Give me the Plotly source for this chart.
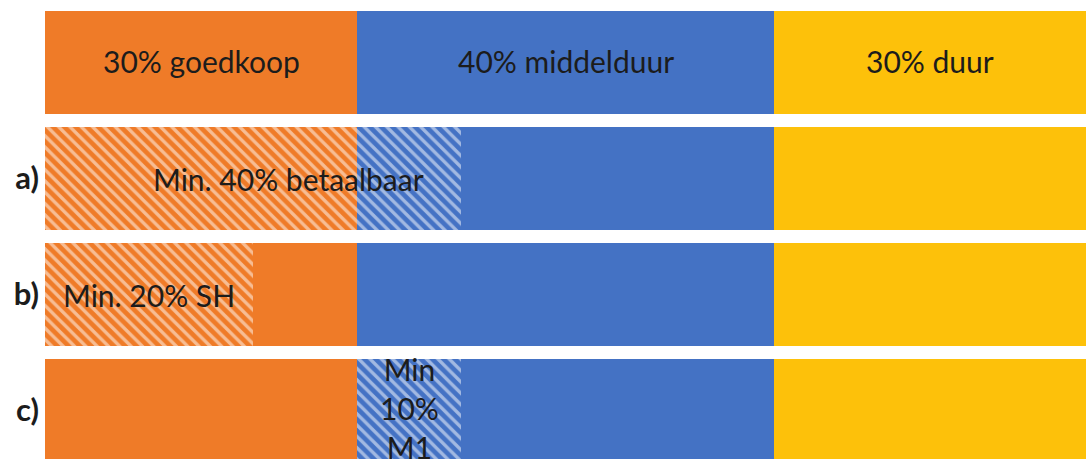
import plotly.graph_objects as go
import numpy as np

# Rows (top to bottom)
row_ids = ["base", "a", "b", "c"]
row_labels = ["", "a)", "b)", "c)"]

# Segment series (percent of total), stacked left to right
orange_hatched = [0, 30, 20, 0]
orange_solid = [30, 0, 10, 30]
blue_hatched = [0, 10, 0, 10]
blue_solid = [40, 30, 40, 30]
yellow_solid = [30, 30, 30, 30]

# Texts
base_texts = ["30% goedkoop", "40% middelduur", "30% duur"]
label_a = "Min. 40% betaalbaar"
label_b = "Min. 20% SH"
label_c = "Min<br>10%<br>M1"

ORANGE = "#EF7B28"
BLUE = "#4472C4"
YELLOW = "#FDC10A"

series = [
    (orange_hatched, ORANGE, True),
    (orange_solid, ORANGE, False),
    (blue_hatched, BLUE, True),
    (blue_solid, BLUE, False),
    (yellow_solid, YELLOW, False),
]

fig = go.Figure()
ypos = list(range(len(row_ids)))
for vals, col, hatched in series:
    marker = dict(color=col, line=dict(width=0))
    if hatched:
        marker["pattern"] = dict(shape="\\", bgcolor=col, fgcolor="white",
                                 fillmode="overlay", size=8, solidity=0.42)
    fig.add_trace(go.Bar(x=vals, y=ypos, orientation="h", marker=marker,
                         hoverinfo="skip", showlegend=False))

# cumulative positions for label placement
stack = np.array([orange_hatched, orange_solid, blue_hatched, blue_solid, yellow_solid], dtype=float)
cum = np.cumsum(stack, axis=0)
starts = cum - stack

FONT = dict(family="Lato, Calibri, sans-serif", size=30, color="#1c1c1c")
ann = []
# base row: orange solid, blue solid, yellow
for idx, txt in zip([1, 3, 4], base_texts):
    mid = starts[idx][0] + stack[idx][0] / 2
    ann.append(dict(x=mid, y=0, text=txt, showarrow=False, font=FONT, yshift=2))
# row a: spans hatched orange + hatched blue
mid_a = (starts[0][1] + cum[2][1]) / 2
ann.append(dict(x=mid_a, y=1, text=label_a, showarrow=False, font=FONT, xshift=35))
# row b: hatched orange
mid_b = starts[0][2] + stack[0][2] / 2
ann.append(dict(x=mid_b, y=2, text=label_b, showarrow=False, font=FONT))
# row c: hatched blue
mid_c = starts[2][3] + stack[2][3] / 2
ann.append(dict(x=mid_c, y=3, text=label_c, showarrow=False, font=FONT,
                yshift=3))

fig.update_layout(
    barmode="stack",
    bargap=0.112,
    width=1086, height=459,
    margin=dict(l=45, r=0, t=0, b=0),
    paper_bgcolor="white", plot_bgcolor="white",
    annotations=ann,
    xaxis=dict(range=[0, 100], visible=False, fixedrange=True),
    yaxis=dict(range=[3.418, -0.539], tickmode="array", tickvals=ypos,
               ticktext=row_labels, showgrid=False, zeroline=False, ticks="",
               tickfont=dict(family="Lato, Calibri, sans-serif", size=31,
                             color="#1c1c1c", weight="bold"),
               ticklabelstandoff=5),
)

fig.write_html("out.html")
